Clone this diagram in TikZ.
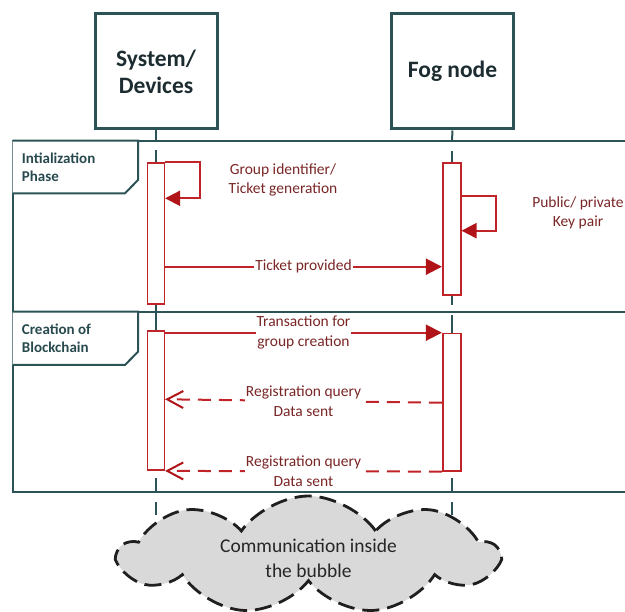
\documentclass[tikz,border=0pt]{standalone}
\usepackage{fontspec}
\setmainfont{Carlito}
\usetikzlibrary{arrows.meta,shapes.symbols,calc}
\definecolor{teal0}{RGB}{44,84,86}
\definecolor{hdrtxt}{RGB}{28,44,48}
\definecolor{tabtxt}{RGB}{40,74,78}
\definecolor{msgred}{RGB}{192,36,40}
\definecolor{arrred}{RGB}{176,20,24}
\definecolor{txtred}{RGB}{122,38,38}
\definecolor{cloudgray}{RGB}{217,217,217}
\tikzset{
  hdr/.style={draw=teal0, line width=3pt, minimum width=122pt, minimum height=115pt, align=center,
    inner sep=0pt, text=hdrtxt, font=\fontsize{23.5}{27}\selectfont\bfseries},
  frameline/.style={draw=teal0, line width=2pt},
  tabbox/.style={draw=teal0, line width=2pt, fill=white},
  tablbl/.style={text=tabtxt, font=\fontsize{15}{17.7}\selectfont\bfseries, align=left, anchor=west, inner sep=0pt},
  life/.style={draw=teal0, line width=2pt},
  act/.style={draw=msgred, fill=white, line width=1.6pt, minimum width=17pt, inner sep=0pt, anchor=north},
  msg/.style={draw=msgred, line width=2pt},
  filledtip/.style={-{Triangle[length=16pt,width=16pt,color=arrred]}},
  selftip/.style={-{Triangle[length=15pt,width=15pt,color=arrred]}},
  opentip/.style={-{Straight Barb[length=16pt,width=17pt,color=arrred]}},
  dashmsg/.style={msg, dash pattern=on 13pt off 8pt},
  lbl/.style={text=txtred, font=\fontsize{15.5}{19.5}\selectfont, align=center, inner sep=1pt},
  mlbl/.style={lbl, fill=white}
}
\begin{document}
\begin{tikzpicture}[x=1pt,y=-1pt]
\useasboundingbox (0,0) rectangle (625,612);

% header boxes
\node[hdr] (sys) at (156,71.5) {System/\\Devices};
\node[hdr] (fog) at (452.5,71.5) {Fog node};

% frames
\coordinate (f1tl) at (12.7,140.7);
\coordinate (f1bl) at (12.7,311.7);
\coordinate (f2bl) at (12.7,492);
\draw[frameline] (630,140.7) -- (f1tl) -- (f2bl) -- (630,492);
\draw[frameline] (f1bl) -- (630,311.7);

% tabs
\draw[tabbox] (f1tl) -- (138,140.7) -- (138,180) -- (125,193.3) -- (12.7,193.3);
\node[tablbl] (tab1) at (21.7,167) {Intialization\\Phase};
\draw[tabbox] (f1bl) -- (138,311.7) -- (138,351.7) -- (125,365) -- (12.7,365);
\node[tablbl] (tab2) at (21.7,338.5) {Creation of\\Blockchain};

% lifelines (broken segments as in the reference)
\draw[life] (sys.south) -- (156,140.7);
\draw[life] (156,150.5) -- (156,163);
\draw[life] (156,303) -- (156,330);
\draw[life] (156,478) -- (156,492);
\draw[life] (156,501.7) -- (156,515);
\draw[life] (fog.south) -- (452,140.7);
\draw[life] (452,150.7) -- (452,163);
\draw[life] (452,294) -- (452,305);
\draw[life] (452,315) -- (452,333);
\draw[life] (452,478) -- (452,492);
\draw[life] (452,501.7) -- (452,515);

% activation bars
\node[act, minimum height=141pt] (sa1) at (155.8,162.3) {};
\node[act, minimum height=132pt, minimum width=18pt] (fa1) at (451.7,162.3) {};
\node[act, minimum height=139.3pt] (sa2) at (155.8,330) {};
\node[act, minimum height=137.3pt, minimum width=18pt] (fa2) at (451.7,332.7) {};

% self message system
\coordinate (s1a) at (200,162.3);
\coordinate (s1b) at (200,198.3);
\draw[msg, selftip] (sa1.north east) -- (s1a) -- (s1b) -- (sa1.east |- s1b);
\node[lbl] (l1) at (283,180) {Group identifier/\\Ticket generation};

% self message fog
\coordinate (f1s) at (0,195.7);
\coordinate (f1a) at (495.7,195.7);
\coordinate (f1b) at (495.7,230.7);
\draw[msg, selftip] (fa1.east |- f1s) -- (f1a) -- (f1b) -- (fa1.east |- f1b);
\node[lbl] (l2) at (578,213) {Public/ private\\Key pair};

% ticket provided
\coordinate (t1) at (0,266.7);
\draw[msg, filledtip] (sa1.east |- t1) -- (fa1.west |- t1)
  node[mlbl, midway] (l3) {Ticket provided};

% transaction
\coordinate (t2) at (0,332.7);
\draw[msg, filledtip] (sa2.east |- t2) -- (fa2.north west)
  node[mlbl, midway] (l4) {Transaction for\\group creation};

% registration 1
\coordinate (r1f) at (0,402.7);
\coordinate (r1s) at (0,399.3);
\draw[dashmsg, opentip] (fa2.west |- r1f) -- (sa2.east |- r1s)
  node[mlbl, midway] (l5) {Registration query\\Data sent};

% registration 2
\draw[dashmsg, opentip] (fa2.south west) -- (sa2.south east)
  node[mlbl, midway] (l6) {Registration query\\Data sent};

% cloud
\node[cloud, cloud puffs=9, cloud puff arc=110, aspect=3.3, draw=black!88, line width=2.8pt,
  dash pattern=on 17pt off 8pt, fill=cloudgray, minimum width=378pt, minimum height=118pt,
  inner sep=0pt] (bubble) at (308.5,555) {};
\node[align=center, text=black!85, font=\fontsize{19.5}{25}\selectfont] (btext) at (308.5,558.5)
  {Communication inside\\the bubble};
\end{tikzpicture}
\end{document}
